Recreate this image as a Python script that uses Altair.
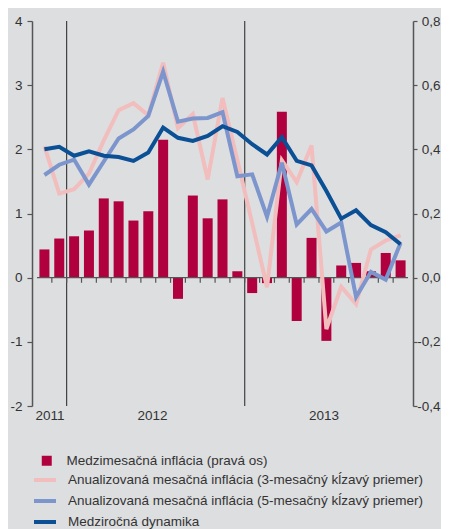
import altair as alt
import pandas as pd

months = ["2011-11", "2011-12",
          "2012-01", "2012-02", "2012-03", "2012-04", "2012-05", "2012-06",
          "2012-07", "2012-08", "2012-09", "2012-10", "2012-11", "2012-12",
          "2013-01", "2013-02", "2013-03", "2013-04", "2013-05", "2013-06",
          "2013-07", "2013-08", "2013-09", "2013-10", "2013-11"]

# Medzimesačná inflácia (pravá os)
mom = [0.088, 0.122, 0.129, 0.147, 0.247, 0.238, 0.178, 0.207, 0.430, -0.066,
       0.256, 0.185, 0.244, 0.020, -0.048, -0.017, 0.517, -0.135, 0.124, -0.197,
       0.038, 0.046, 0.020, 0.077, 0.054]
# Anualizovaná mesačná inflácia (3-mesačný kĺzavý priemer)
ann3 = [2.05, 1.31, 1.38, 1.62, 2.14, 2.61, 2.72, 2.53, 3.35, 2.33,
        2.55, 1.53, 2.80, 1.83, 0.85, -0.15, 1.83, 1.49, 2.06, -0.80,
        -0.14, -0.41, 0.44, 0.58, 0.66]
# Anualizovaná mesačná inflácia (5-mesačný kĺzavý priemer)
ann5 = [1.60, 1.76, 1.84, 1.45, 1.81, 2.17, 2.31, 2.52, 3.21, 2.43,
        2.48, 2.49, 2.58, 1.58, 1.61, 0.95, 1.79, 0.83, 1.07, 0.72,
        0.86, -0.30, 0.09, -0.03, 0.54]
# Medziročná dynamika
yoy = [2.00, 2.04, 1.90, 1.97, 1.90, 1.88, 1.82, 1.95, 2.34, 2.18,
       2.13, 2.21, 2.36, 2.27, 2.08, 1.92, 2.19, 1.82, 1.75, 1.35,
       0.92, 1.05, 0.82, 0.71, 0.52]

name_bar = "Medzimesačná inflácia (pravá os)"
name3 = "Anualizovaná mesačná inflácia (3-mesačný kĺzavý priemer)"
name5 = "Anualizovaná mesačná inflácia (5-mesačný kĺzavý priemer)"
name_yoy = "Medziročná dynamika"

years = ["2011", "2012", "2013"]
year_pos = [1.35, 8.25, 19.8]
year_sep = [2.5, 14.5]

BG = "#dddee0"
C_BAR = "#b0003e"
C_3 = "#f2bdbd"
C_5 = "#7c95cc"
C_YOY = "#0b4f95"
TXT = "#333333"
AX = "#555555"
FONT = "Liberation Sans"
FS = 13.5

idx = list(range(1, len(months) + 1))
df_bar = pd.DataFrame({"idx": idx, "month": months, "mom": mom, "s": name_bar})
rows = []
for nm, vals in [(name3, ann3), (name5, ann5), (name_yoy, yoy)]:
    for i, m, v in zip(idx, months, vals):
        rows.append({"idx": i, "month": m, "value": v, "series": nm})
df_lines = pd.DataFrame(rows)

xscale = alt.Scale(domain=[0.5, len(months) + 0.5], nice=False, zero=False)
yl_scale = alt.Scale(domain=[-2, 4], nice=False, zero=False)
yr_scale = alt.Scale(domain=[-0.4, 0.8], nice=False, zero=False)

lab_expr = " : ".join(f"abs(datum.value - {p}) < 0.01 ? '{y}'" for p, y in zip(year_pos, years)) + " : ''"
x_axis = alt.Axis(values=year_pos, labelExpr=lab_expr,
                  domain=False, ticks=False, grid=False, title=None,
                  labelPadding=2, labelFontSize=FS, labelColor=TXT, labelFont=FONT)

left_axis = alt.Axis(values=[-2, -1, 0, 1, 2, 3, 4], orient="left", grid=False, title=None,
                     labelExpr="(datum.value < 0 ? '-' : '') + abs(datum.value)",
                     domainColor=AX, domainWidth=1.5, tickColor=AX, tickWidth=1.2, tickSize=5,
                     labelPadding=5, labelFontSize=FS, labelColor=TXT, labelFont=FONT)
right_axis = alt.Axis(values=[-0.4, -0.2, 0, 0.2, 0.4, 0.6, 0.8], orient="right", grid=False, title=None,
                      labelExpr="(datum.value < -0.00001 ? '-' : '') + replace(format(abs(datum.value), '.1f'), '.', ',')",
                      domainColor=AX, domainWidth=1.5, tickColor=AX, tickWidth=1.2, tickSize=4,
                      labelAlign="right", labelPadding=23,
                      labelFontSize=FS, labelColor=TXT, labelFont=FONT)

bars = alt.Chart(df_bar).mark_bar(size=10).encode(
    x=alt.X("idx:Q", scale=xscale, axis=x_axis),
    y=alt.Y("mom:Q", scale=yr_scale, axis=right_axis),
    fill=alt.Fill("s:N", scale=alt.Scale(domain=[name_bar], range=[C_BAR]),
                  legend=alt.Legend(title=None, orient="none", legendX=8, legendY=433,
                                    symbolType="square", symbolSize=100, symbolStrokeWidth=0,
                                    labelOffset=13, padding=0, labelLimit=0,
                                    labelFontSize=FS, labelColor=TXT, labelFont=FONT)),
)

sep = alt.Chart(pd.DataFrame({"x": year_sep})).mark_rule(color="#222222", strokeWidth=1).encode(
    x=alt.X("x:Q", scale=xscale, axis=x_axis),
    y=alt.datum(4), y2=alt.datum(-2),
)
zero = alt.Chart(pd.DataFrame({"x": [0.5], "x2": [len(months) + 0.5]})).mark_rule(
    color=AX, strokeWidth=1.2).encode(
    x=alt.X("x:Q", scale=xscale, axis=x_axis), x2="x2:Q", y=alt.datum(0),
)
bounds = [i + 0.5 for i in idx[:-1]]
xticks = alt.Chart(pd.DataFrame({"x": bounds})).mark_rule(color=AX, strokeWidth=1.2).encode(
    x=alt.X("x:Q", scale=xscale, axis=x_axis), y=alt.datum(0), y2=alt.datum(-0.08),
)
lines = alt.Chart(df_lines).mark_line(strokeWidth=4, strokeJoin="miter").encode(
    x=alt.X("idx:Q", scale=xscale, axis=x_axis),
    y=alt.Y("value:Q", scale=yl_scale, axis=left_axis),
    stroke=alt.Stroke("series:N", sort=None,
                      scale=alt.Scale(domain=[name3, name5, name_yoy], range=[C_3, C_5, C_YOY]),
                      legend=alt.Legend(title=None, orient="none", legendX=0, legendY=446,
                                        symbolType="stroke", symbolSize=484, symbolStrokeWidth=4,
                                        labelOffset=10, padding=0, rowPadding=-4.4, labelLimit=0,
                                        labelFontSize=FS, labelColor=TXT, labelFont=FONT)),
)

left_group = alt.layer(sep, zero, xticks, lines)

chart = alt.layer(bars, left_group).resolve_scale(
    y="independent", fill="independent", stroke="independent"
).properties(
    width=381, height=385, background=BG,
    autosize=alt.AutoSizeParams(type="none"),
    padding={"left": 24, "top": 13, "right": 28, "bottom": 130},
).configure_view(stroke=None)

chart.save("out.html", embed_options={"renderer": "svg", "actions": False})
